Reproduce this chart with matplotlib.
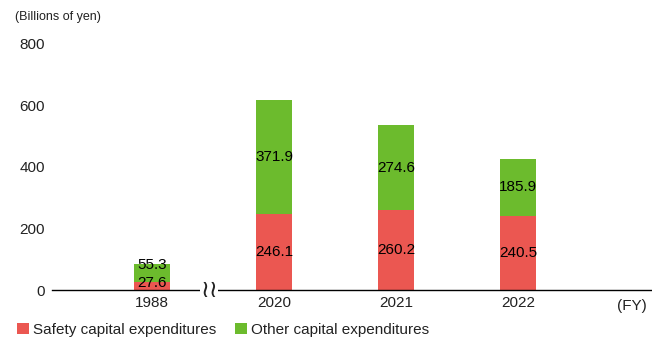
import matplotlib.pyplot as plt

plt.rcParams["font.family"] = ["Liberation Sans", "DejaVu Sans"]

# data (billions of yen)
years = ["1988", "2020", "2021", "2022"]
safety = [27.6, 246.1, 260.2, 240.5]
other = [55.3, 371.9, 274.6, 185.9]

RED = "#EB5751"
GREEN = "#6CBB2D"
TEXT = "#222222"

fig = plt.figure(figsize=(6.52, 3.4), dpi=100)
ax = fig.add_axes([0.0798, 0.147, 0.9202, 0.725])

x = list(range(len(years)))
width = 0.30
b1 = ax.bar(x, safety, width, color=RED, label="Safety capital expenditures")
b2 = ax.bar(x, other, width, bottom=safety, color=GREEN, label="Other capital expenditures")

# value labels in the middle of each segment (1988 nudged up, its bar is tiny)
for i in x:
    dy_s, dy_o = (2, 6) if i == 0 else (0, 0)
    ax.annotate(f"{safety[i]:.1f}", (i, safety[i] / 2), xytext=(0, dy_s),
                textcoords="offset points", ha="center", va="center",
                fontsize=11, color="black")
    ax.annotate(f"{other[i]:.1f}", (i, safety[i] + other[i] / 2), xytext=(0, dy_o),
                textcoords="offset points", ha="center", va="center",
                fontsize=11, color="black")

ax.set_xlim(-0.82, 4.10)
ax.set_ylim(0, 800)
ax.set_yticks([0, 200, 400, 600, 800])
ax.set_xticks(x)
ax.set_xticklabels(years)
ax.tick_params(length=0, labelsize=11, colors=TEXT)
ax.tick_params(axis="y", pad=5)
ax.tick_params(axis="x", pad=4)

for s in ["top", "right", "left"]:
    ax.spines[s].set_visible(False)
ax.spines["bottom"].set_color("black")
ax.spines["bottom"].set_linewidth(1)

# axis break mark between 1988 and 2020
ax.text(0.47, 0, "\u2240\u2240", ha="center", va="center", fontsize=17,
        family="DejaVu Sans", color=TEXT,
        bbox=dict(facecolor="white", edgecolor="none", pad=0.2))

fig.text(0.023, 0.95, "(Billions of yen)", fontsize=9, color=TEXT, va="center")
fig.text(0.992, 0.10, "(FY)", fontsize=11, color=TEXT, ha="right", va="center")

ax.legend(handles=[b1, b2], loc="center left", bbox_to_anchor=(0.026, 0.03),
          bbox_transform=fig.transFigure, ncol=2, frameon=False, fontsize=11,
          handlelength=0.8, handleheight=0.8, handletextpad=0.25,
          columnspacing=1.2, borderaxespad=0, borderpad=0, labelcolor=TEXT)

fig.savefig("out.png", dpi=100)
